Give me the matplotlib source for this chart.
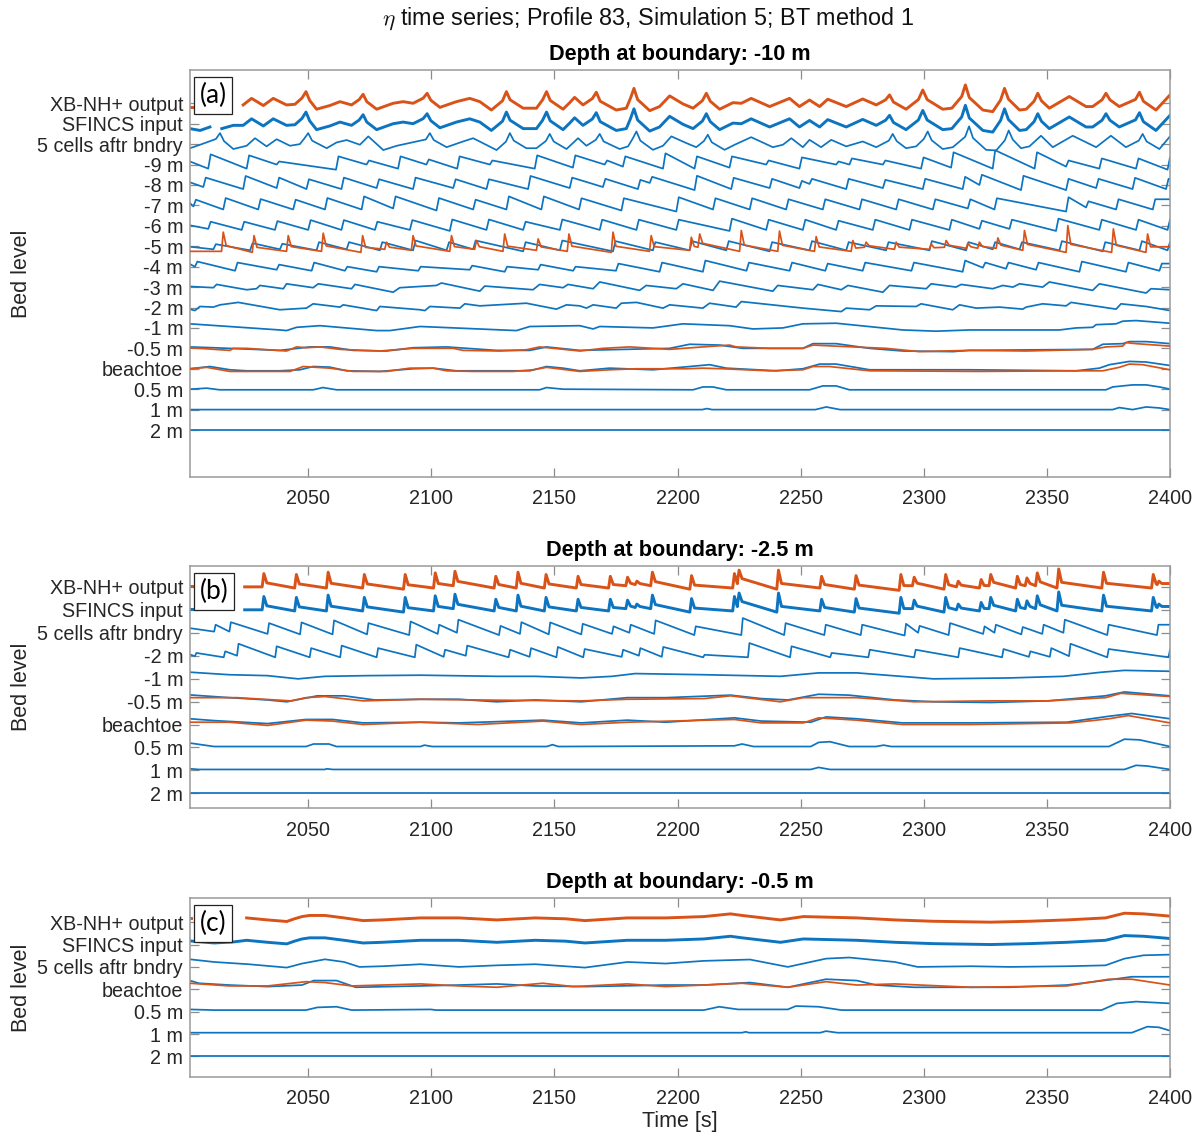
import numpy as np
import matplotlib
matplotlib.use("Agg")
import matplotlib.pyplot as plt

plt.rcParams["font.family"] = ["Liberation Sans", "DejaVu Sans"]
plt.rcParams["mathtext.fontset"] = "cm"

BLUE = "#0d74c0"
ORANGE = "#D95319"
T0, T1 = 2002.0, 2400.0

# ---------------------------------------------------------------- panel (a)
labels_a = ["2 m", "1 m", "0.5 m", "beachtoe", "-0.5 m", "-1 m", "-2 m", "-3 m",
            "-4 m", "-5 m", "-6 m", "-7 m", "-8 m", "-9 m", "5 cells aftr bndry",
            "SFINCS input", "XB-NH+ output"]

# SFINCS input signal (same record as the XB-NH+ output), (time, eta)
sf_a = [(2002.0, -0.24), (2006.1, -0.33), (2010.1, -0.16), (2010.2, np.nan),
        (2014.9, -0.24), (2019.6, -0.08),
        (2023.6, -0.08), (2027.0, 0.24), (2031.8, -0.11), (2035.8, 0.24), (2041.2, -0.08),
        (2044.6, -0.05), (2047.5, 0.26), (2049.1, 0.57), (2050.6, 0.14), (2053.4, -0.29),
        (2058.8, -0.11), (2062.9, 0.08), (2067.6, -0.08), (2070.7, 0.18), (2072.3, 0.44),
        (2073.8, 0.08), (2077.8, -0.29), (2084.5, 0.0), (2088.6, 0.08), (2092.6, 0.0),
        (2096.7, 0.25), (2098.3, 0.49), (2099.8, 0.15), (2103.5, -0.2), (2110.2, 0.08),
        (2115.6, 0.24), (2119.7, 0.08), (2124.4, -0.33), (2128.9, 0.12), (2130.5, 0.57),
        (2132.0, 0.17), (2137.3, -0.24), (2142.7, -0.24), (2145.2, 0.17), (2146.8, 0.57),
        (2148.3, 0.14), (2153.5, -0.29), (2156.2, 0.03), (2158.2, 0.29), (2161.6, -0.08),
        (2165.4, 0.23), (2167.0, 0.54), (2168.6, 0.1), (2175.1, -0.33), (2179.2, -0.24),
        (2180.9, 0.25), (2182.3, 0.73), (2183.8, 0.18), (2188.7, -0.36), (2192.7, -0.16),
        (2196.8, 0.36), (2202.2, -0.03), (2206.3, -0.24), (2210.1, 0.13), (2211.7, 0.49),
        (2213.3, 0.1), (2217.1, -0.29), (2222.5, 0.03), (2225.9, 0.0), (2229.9, 0.24),
        (2237.4, -0.16), (2245.5, 0.24), (2249.5, -0.16), (2253.6, 0.16), (2257.7, -0.16),
        (2261.0, 0.2), (2268.5, -0.16), (2275.2, 0.21), (2280.7, -0.08), (2284.5, 0.17),
        (2286.1, 0.41), (2287.7, 0.06), (2292.8, -0.29), (2297.8, 0.18), (2299.6, 0.65),
        (2301.4, 0.18), (2307.7, -0.29), (2311.4, -0.24), (2315.4, 0.33), (2316.9, 0.9),
        (2318.5, 0.28), (2324.0, -0.33), (2328.0, -0.41), (2331.2, 0.16), (2332.8, 0.73),
        (2334.4, 0.2), (2338.9, -0.33), (2341.6, -0.29), (2344.8, 0.1), (2346.3, 0.49),
        (2347.8, 0.12), (2351.0, -0.24), (2359.1, 0.33), (2365.9, -0.16), (2368.6, -0.16),
        (2372.4, 0.17), (2374.0, 0.49), (2375.6, 0.17), (2379.4, -0.16), (2386.0, 0.19),
        (2387.6, 0.54), (2389.2, 0.1), (2394.3, -0.33), (2400.0, 0.41)]
xb_a_start = 2023.6
xb_a_head = [(2002.0, -0.16), (2004.0, -0.16)]

cells5_a = [(2002.0, -0.2), (2006.1, -0.03), (2012.5, 0.25), (2014.2, 0.54), (2015.8, 0.15),
            (2019.6, -0.24), (2025.0, -0.08), (2028.4, 0.29), (2033.1, -0.11), (2037.2, 0.24),
            (2042.6, -0.08), (2046.6, 0.0), (2048.4, 0.27), (2050.0, 0.54), (2051.6, 0.17),
            (2057.5, -0.2), (2061.5, 0.08), (2065.6, 0.2), (2071.0, -0.03), (2074.4, 0.38),
            (2080.5, -0.29), (2086.0, -0.08), (2097.8, 0.23), (2099.4, 0.54), (2101.0, 0.2),
            (2106.2, -0.15), (2112.9, 0.13), (2117.0, 0.29), (2126.5, -0.29), (2130.3, 0.12),
            (2131.9, 0.54), (2133.5, 0.17), (2138.6, -0.2), (2142.7, -0.2), (2146.5, 0.15),
            (2148.1, 0.5), (2149.7, 0.13), (2154.9, -0.24), (2159.6, 0.29), (2163.0, -0.08),
            (2166.8, 0.21), (2168.4, 0.5), (2170.0, 0.13), (2176.5, -0.24), (2179.9, -0.11),
            (2181.7, 0.25), (2183.3, 0.62), (2184.9, 0.17), (2190.0, -0.28), (2194.1, -0.08),
            (2197.5, 0.38), (2203.6, 0.05), (2207.6, -0.15), (2210.7, 0.15), (2212.3, 0.46),
            (2213.9, 0.09), (2219.1, -0.28), (2223.2, -0.03), (2229.9, 0.34), (2238.7, -0.15),
            (2242.8, -0.03), (2246.2, 0.29), (2250.9, -0.15), (2253.6, 0.21), (2258.3, -0.15),
            (2262.4, 0.21), (2268.5, -0.11), (2275.2, 0.13), (2280.7, -0.15), (2285.8, 0.17),
            (2287.4, 0.5), (2289.0, 0.15), (2292.8, -0.2), (2296.9, -0.11), (2300.0, 0.25),
            (2301.6, 0.62), (2303.2, 0.19), (2307.7, -0.24), (2311.8, -0.15), (2316.8, 0.36),
            (2318.4, 0.87), (2320.0, 0.3), (2325.3, -0.28), (2329.4, -0.31), (2332.9, 0.18),
            (2334.5, 0.67), (2336.1, 0.23), (2339.5, -0.2), (2342.9, -0.11), (2347.6, 0.41),
            (2352.4, -0.15), (2360.5, 0.41), (2370.0, -0.15), (2376.0, 0.41), (2382.1, -0.15),
            (2387.3, 0.17), (2388.9, 0.5), (2390.5, 0.13), (2395.7, -0.24), (2400.0, 0.38)]

# bore fronts: arrival time, level just before and just after the front
m9_t = [2009.4, 2025.0, 2037.2, 2061.3, 2073.7, 2086.5, 2098.0, 2110.5, 2123.8, 2142.0,
        2157.5, 2170.4, 2177.8, 2194.1, 2206.9, 2221.1, 2236.0, 2249.5, 2264.4, 2269.8,
        2283.4, 2298.9, 2311.1, 2328.0, 2345.0, 2357.8, 2371.3, 2386.2, 2399.0]
m9_lo = [-0.2, -0.2, 0.0, -0.25, 0.0, -0.2, 0.0, -0.2, 0.0, -0.2, -0.15, 0.0, -0.1, -0.2,
         -0.2, -0.15, 0.0, -0.2, 0.0, 0.0, 0.0, -0.2, -0.15, -0.2, -0.2, -0.1, -0.2, -0.2, -0.25]
m9_hi = [0.5, 0.45, 0.15, 0.4, 0.2, 0.4, 0.25, 0.4, 0.2, 0.45, 0.45, 0.2, 0.4, 0.55,
         0.4, 0.4, 0.2, 0.35, 0.15, 0.3, 0.2, 0.35, 0.6, 0.7, 0.6, 0.2, 0.3, 0.3, 0.35]

m8_t = [2007.4, 2023.6, 2037.2, 2049.3, 2063.5, 2077.8, 2092.6, 2108.9, 2122.4, 2139.3,
        2156.2, 2169.7, 2183.9, 2188.7, 2206.9, 2221.8, 2237.4, 2249.5, 2253.6, 2268.5,
        2283.4, 2299.6, 2315.8, 2322.6, 2339.5, 2357.8, 2370.0, 2384.8, 2398.4]
m8_lo = [-0.1, -0.2, -0.15, -0.2, -0.2, -0.15, -0.2, -0.15, -0.2, -0.2, -0.15, -0.1, -0.2, 0.1,
         -0.25, -0.2, -0.15, -0.15, 0.05, -0.2, -0.15, -0.2, -0.2, 0.0, -0.25, -0.25, -0.15,
         -0.2, -0.2]
m8_hi = [0.36, 0.44, 0.36, 0.28, 0.36, 0.28, 0.36, 0.28, 0.28, 0.44, 0.36, 0.3, 0.25, 0.4,
         0.45, 0.35, 0.3, 0.2, 0.3, 0.3, 0.25, 0.3, 0.4, 0.5, 0.45, 0.3, 0.3, 0.35, 0.3]

m7_t = [2003.4, 2015.5, 2029.7, 2043.9, 2056.8, 2071.7, 2084.5, 2102.1, 2117.0, 2130.5,
        2144.7, 2160.0, 2177.2, 2199.5, 2214.4, 2229.3, 2244.1, 2259.0, 2273.9, 2288.8,
        2303.7, 2317.9, 2328.7, 2357.8, 2365.9, 2378.1, 2393.0]
m7_lo = [-0.05, -0.2, -0.2, -0.2, -0.2, -0.2, -0.15, -0.25, -0.2, -0.2, -0.2, -0.2, -0.25,
         -0.3, -0.2, -0.2, -0.2, -0.2, -0.2, -0.2, -0.2, -0.15, -0.2, -0.3, -0.1, -0.2, -0.2]
m7_hi = [0.28, 0.36, 0.31, 0.28, 0.36, 0.44, 0.44, 0.36, 0.28, 0.44, 0.44, 0.35, 0.35,
         0.4, 0.35, 0.35, 0.3, 0.3, 0.3, 0.3, 0.3, 0.3, 0.35, 0.4, 0.2, 0.3, 0.3]

m6_t = [2009.4, 2023.0, 2036.5, 2050.0, 2063.5, 2077.1, 2091.3, 2107.5, 2122.4, 2137.3,
        2152.2, 2168.4, 2183.3, 2199.5, 2221.1, 2236.0, 2250.9, 2264.4, 2279.3, 2294.2,
        2310.4, 2322.6, 2334.8, 2353.7, 2371.3, 2386.2, 2399.0]
m6_lo = [-0.15, -0.2, -0.2, -0.2, -0.2, -0.2, -0.2, -0.25, -0.2, -0.2, -0.2, -0.2, -0.2,
         -0.2, -0.25, -0.2, -0.2, -0.2, -0.2, -0.2, -0.2, -0.15, -0.15, -0.25, -0.2, -0.2, -0.2]
m6_hi = [0.2, 0.2, 0.23, 0.28, 0.28, 0.2, 0.28, 0.31, 0.31, 0.2, 0.31, 0.3, 0.3, 0.3,
         0.35, 0.3, 0.3, 0.25, 0.3, 0.3, 0.3, 0.25, 0.3, 0.35, 0.3, 0.3, 0.3]

m5_t = [2011.5, 2026.4, 2038.5, 2053.4, 2065.6, 2079.1, 2092.6, 2106.2, 2117.0, 2137.3,
        2152.2, 2173.8, 2190.0, 2204.9, 2219.8, 2237.4, 2253.6, 2268.5, 2284.7, 2302.3,
        2317.2, 2328.0, 2338.9, 2355.1, 2372.7, 2387.6, 2399.0]
m5_lo = [-0.15, -0.2, -0.15, -0.2, -0.15, -0.2, -0.2, -0.2, -0.15, -0.25, -0.2, -0.25,
         -0.2, -0.2, -0.2, -0.25, -0.2, -0.2, -0.2, -0.2, -0.2, -0.15, -0.15, -0.2, -0.25,
         -0.2, -0.2]
m5_hi = [0.1, 0.15, 0.12, 0.2, 0.2, 0.2, 0.28, 0.2, 0.28, 0.2, 0.28, 0.25, 0.2, 0.25, 0.25,
         0.2, 0.25, 0.2, 0.2, 0.25, 0.2, 0.2, 0.2, 0.25, 0.2, 0.25, 0.2]

# XB-NH+ at -5 m: narrow crests (time, crest level)
m5x_t = [2015.5, 2028.0, 2041.9, 2056.1, 2072.1, 2081.8, 2092.6, 2108.2, 2118.3, 2129.8,
         2143.4, 2155.9, 2173.8, 2189.3, 2205.6, 2209.0, 2225.9, 2241.4, 2256.3, 2271.2,
         2276.6, 2288.8, 2303.0, 2309.1, 2317.9, 2322.6, 2330.1, 2340.9, 2358.5, 2377.0,
         2390.9]
m5x_hi = [0.69, 0.52, 0.52, 0.64, 0.52, 0.2, 0.52, 0.52, 0.28, 0.6, 0.36, 0.6, 0.69, 0.52,
          0.44, 0.6, 0.77, 0.74, 0.47, 0.28, 0.2, 0.2, 0.11, 0.28, 0.15, 0.2, 0.41, 0.77,
          1.01, 0.85, 0.6]
m5x_lo = [-0.25, -0.3, -0.25, -0.25, -0.3, -0.15, -0.2, -0.25, -0.15, -0.25, -0.2, -0.25,
          -0.3, -0.25, -0.2, -0.05, -0.25, -0.25, -0.25, -0.25, -0.05, -0.15, -0.15, -0.05,
          -0.1, -0.1, -0.1, -0.2, -0.3, -0.3, -0.3]

m4_t = [2004.0, 2020.3, 2037.2, 2051.4, 2064.9, 2077.8, 2094.7, 2115.6, 2129.8, 2143.4,
        2157.6, 2175.0, 2192.7, 2210.3, 2228.0, 2245.5, 2260.0, 2275.2, 2295.0, 2315.8,
        2324.0, 2333.4, 2345.6, 2363.2, 2382.1, 2395.7]
m4_lo = [0.0, -0.2, -0.15, -0.2, -0.2, -0.25, -0.2, -0.15, -0.25, -0.15, -0.2, -0.2,
         -0.25, -0.25, -0.2, -0.2, -0.2, -0.2, -0.2, -0.25, -0.05, -0.1, -0.15, -0.25,
         -0.25, -0.2]
m4_hi = [0.25, 0.2, 0.1, 0.2, 0.0, 0.0, 0.0, 0.05, 0.0, 0.1, 0.0, 0.15, 0.2, 0.3, 0.2, 0.2,
         0.15, 0.2, 0.2, 0.3, 0.2, 0.2, 0.2, 0.25, 0.2, 0.15]

m3_a = [(2002.0, 0.03), (2011.5, -0.03), (2012.8, 0.13), (2025.0, -0.13), (2029.0, -0.08),
        (2030.4, 0.08), (2039.9, -0.08), (2041.2, 0.16), (2052.0, -0.03), (2054.1, 0.16),
        (2067.6, -0.08), (2069.0, 0.13), (2084.5, -0.25), (2087.2, -0.03), (2102.1, 0.08),
        (2104.1, 0.2), (2119.7, -0.2), (2121.7, 0.05), (2141.3, -0.13), (2144.0, 0.13),
        (2153.5, -0.03), (2155.5, 0.13), (2165.7, -0.08), (2168.4, 0.25), (2184.6, -0.16),
        (2187.3, 0.08), (2199.5, -0.08), (2202.2, 0.16), (2214.4, -0.16), (2217.1, 0.29),
        (2238.7, -0.2), (2240.7, 0.08), (2255.0, -0.13), (2257.0, 0.13), (2266.5, -0.13),
        (2269.2, 0.08), (2283.4, -0.25), (2286.1, 0.08), (2301.0, -0.08), (2303.0, 0.16),
        (2313.1, 0.0), (2315.2, 0.13), (2328.0, -0.08), (2332.1, 0.08), (2336.2, 0.0),
        (2338.9, 0.16), (2348.3, 0.0), (2351.0, 0.25), (2368.6, -0.16), (2371.3, 0.16),
        (2390.3, -0.29), (2392.3, -0.08), (2400.0, -0.13)]

m2_a = [(2002.0, -0.08), (2004.0, -0.15), (2006.0, 0.05), (2011.5, 0.02), (2014.2, 0.13),
        (2021.6, 0.25), (2038.5, -0.11), (2049.3, -0.03), (2052.0, 0.18), (2062.9, 0.02),
        (2064.2, 0.13), (2077.8, -0.15), (2079.1, 0.05), (2095.4, -0.11), (2097.4, -0.15),
        (2099.4, 0.05), (2111.6, -0.03), (2113.6, 0.18), (2119.7, 0.08), (2138.6, 0.21),
        (2150.8, -0.08), (2154.9, 0.13), (2160.3, 0.08), (2163.0, -0.03), (2165.7, 0.13),
        (2175.1, -0.03), (2177.2, 0.21), (2183.3, 0.25), (2194.1, -0.03), (2196.8, 0.13),
        (2210.3, -0.03), (2213.0, 0.21), (2223.8, 0.02), (2225.9, 0.29), (2250.9, -0.03),
        (2266.5, -0.2), (2268.5, -0.03), (2278.0, -0.11), (2280.7, 0.08), (2296.9, 0.05),
        (2298.9, 0.18), (2311.8, -0.11), (2314.5, 0.13), (2321.3, -0.03), (2330.7, 0.02),
        (2340.2, -0.08), (2341.6, 0.02), (2348.3, 0.18), (2357.8, 0.08), (2359.8, 0.25),
        (2378.1, -0.08), (2380.1, 0.18), (2390.3, 0.05), (2400.0, -0.15)]

m1_a = [(2002.0, 0.2), (2038.5, -0.1), (2041.2, -0.13), (2045.3, 0.03), (2054.8, 0.11),
        (2077.8, -0.13), (2083.2, -0.13), (2095.4, 0.07), (2103.5, 0.03), (2134.6, -0.13),
        (2140.0, 0.07), (2160.3, 0.11), (2165.7, -0.05), (2168.4, 0.07), (2190.0, 0.0),
        (2202.2, 0.2), (2221.1, 0.11), (2230.6, -0.05), (2242.8, 0.0), (2250.9, 0.2),
        (2264.4, 0.23), (2291.5, -0.1), (2305.0, -0.16), (2318.5, -0.1), (2355.1, -0.1),
        (2361.9, 0.0), (2368.6, 0.03), (2370.0, 0.16), (2378.1, 0.2), (2380.8, 0.33),
        (2386.2, 0.36), (2400.0, 0.23)]

m05_a = [(2002.0, 0.07), (2011.5, 0.03), (2038.5, -0.1), (2050.7, 0.07), (2058.8, 0.07),
         (2068.3, -0.1), (2081.8, -0.13), (2092.6, 0.03), (2106.2, 0.07), (2126.5, -0.1),
         (2140.0, -0.1), (2146.8, 0.07), (2160.3, -0.1), (2196.8, 0.0), (2204.9, 0.2),
         (2217.1, 0.16), (2226.5, 0.0), (2250.9, 0.0), (2255.0, 0.23), (2264.4, 0.23),
         (2278.0, 0.0), (2291.5, -0.13), (2311.8, -0.16), (2318.5, -0.1), (2368.6, -0.05),
         (2372.7, 0.2), (2380.8, 0.23), (2383.5, 0.33), (2390.3, 0.33), (2400.0, 0.23)]
m05x_a = [(2002.0, 0.03), (2018.2, -0.1), (2019.6, 0.0), (2025.0, 0.0), (2041.2, -0.13),
          (2045.3, 0.07), (2049.3, 0.03), (2054.8, 0.07), (2062.9, -0.05), (2079.1, -0.13),
          (2092.6, 0.0), (2108.9, 0.0), (2112.9, -0.1), (2127.8, -0.13), (2138.6, -0.07),
          (2144.0, 0.07), (2160.3, -0.13), (2169.7, 0.0), (2180.6, 0.07), (2196.8, -0.05),
          (2210.3, 0.07), (2221.1, 0.16), (2223.8, 0.07), (2237.4, 0.0), (2250.9, 0.0),
          (2255.0, 0.16), (2271.2, 0.07), (2284.7, 0.0), (2298.2, -0.16), (2318.5, -0.1),
          (2341.6, -0.13), (2368.6, -0.05), (2374.0, 0.07), (2380.8, 0.11), (2382.1, 0.28),
          (2386.2, 0.23), (2400.0, 0.11)]

bt_a = [(2002.0, 0.0), (2010.1, 0.11), (2018.2, -0.05), (2025.0, -0.1), (2038.5, -0.1),
        (2046.6, -0.05), (2052.0, 0.11), (2058.8, 0.08), (2065.6, -0.1), (2079.1, -0.13),
        (2092.6, 0.0), (2100.8, 0.03), (2110.2, -0.1), (2140.0, -0.1), (2146.8, 0.11),
        (2153.5, 0.03), (2160.3, -0.1), (2172.4, 0.03), (2190.0, -0.05), (2204.9, 0.11),
        (2213.0, 0.2), (2219.8, 0.03), (2240.1, -0.1), (2250.9, 0.0), (2257.7, 0.23),
        (2264.4, 0.23), (2278.0, -0.05), (2318.5, -0.05), (2361.9, -0.1), (2371.3, 0.03),
        (2375.4, 0.2), (2383.5, 0.36), (2390.3, 0.33), (2400.0, 0.16)]
btx_a = [(2002.0, 0.0), (2008.8, 0.07), (2018.2, -0.13), (2042.6, -0.13), (2048.0, 0.11),
         (2058.8, 0.03), (2068.3, -0.13), (2081.8, -0.13), (2091.3, 0.03), (2100.8, 0.03),
         (2106.2, -0.1), (2117.0, -0.13), (2133.2, -0.13), (2141.3, -0.05), (2146.8, 0.07),
         (2160.3, -0.13), (2172.4, -0.05), (2183.3, 0.0), (2203.6, 0.0), (2210.3, 0.03),
         (2218.4, 0.0), (2237.4, -0.1), (2250.9, -0.05), (2255.0, 0.11), (2261.7, 0.11),
         (2278.0, -0.1), (2322.6, -0.13), (2361.9, -0.1), (2372.7, -0.1), (2379.4, 0.07),
         (2383.5, 0.23), (2388.9, 0.2), (2400.0, -0.05)]

p05_a = [(2002.0, 0.0), (2008.8, 0.05), (2014.0, -0.03), (2052.0, -0.03), (2056.0, 0.08),
         (2061.5, -0.03), (2144.0, -0.03), (2146.8, 0.08), (2153.5, 0.0), (2206.3, -0.03),
         (2210.3, 0.11), (2214.4, 0.11), (2219.8, -0.03), (2253.6, -0.03), (2259.0, 0.16),
         (2264.4, 0.16), (2269.8, -0.03), (2374.0, -0.03), (2376.7, 0.11), (2384.8, 0.21),
         (2390.3, 0.21), (2395.7, 0.11), (2400.0, 0.0)]
p1_a = [(2002.0, 0.0), (2210.0, 0.0), (2212.0, 0.05), (2214.0, 0.0), (2256.0, 0.0),
        (2260.4, 0.13), (2266.0, 0.0), (2376.7, 0.0), (2379.4, 0.1), (2384.8, 0.0),
        (2390.3, 0.13), (2395.7, 0.08), (2400.0, 0.0)]
p2_a = [(2002.0, 0.0), (2400.0, 0.0)]

# ---------------------------------------------------------------- panel (b)
labels_b = ["2 m", "1 m", "0.5 m", "beachtoe", "-0.5 m", "-1 m", "-2 m",
            "5 cells aftr bndry", "SFINCS input", "XB-NH+ output"]

xb_b_t = [2032.0, 2045.2, 2058.1, 2072.8, 2089.4, 2101.6, 2109.6, 2126.2, 2135.2, 2146.6,
          2159.6, 2172.7, 2179.7, 2183.5, 2189.8, 2205.7, 2223.1, 2225.0, 2241.0, 2258.5,
          2272.5, 2290.7, 2296.1, 2308.9, 2314.0, 2323.3, 2327.2, 2338.0, 2341.9, 2346.1,
          2354.8, 2373.0, 2393.2, 2395.5]
xb_b_hi = [0.58, 0.54, 0.64, 0.54, 0.54, 0.61, 0.68, 0.46, 0.64, 0.54, 0.46, 0.46, 0.42,
           0.25, 0.64, 0.49, 0.58, 0.73, 0.73, 0.46, 0.49, 0.54, 0.42, 0.54, 0.25, 0.32,
           0.54, 0.46, 0.39, 0.61, 0.78, 0.64, 0.54, 0.25]
xb_b_lo = [0.0, -0.05, -0.05, -0.05, -0.1, -0.05, 0.05, -0.05, -0.05, -0.05, -0.05, -0.05,
           0.05, 0.1, 0.05, -0.1, -0.05, 0.2, -0.1, -0.05, -0.1, -0.15, 0.05, -0.1, 0.0,
           -0.05, 0.05, -0.05, 0.05, 0.05, -0.05, -0.05, -0.05, 0.1]
xb_b_span = (2024.2, 2400.0)
xb_b_head = [(2002.0, 0.03), (2004.3, 0.03)]

c5_b_t = [2011.8, 2018.0, 2033.5, 2046.7, 2059.9, 2073.9, 2091.0, 2102.6, 2110.4, 2127.5,
          2136.0, 2147.7, 2160.9, 2173.4, 2180.4, 2190.5, 2206.8, 2225.9, 2243.3, 2259.6,
          2274.4, 2292.2, 2297.7, 2310.1, 2324.1, 2328.7, 2339.6, 2348.1, 2356.7, 2374.5,
          2394.7]
c5_b_hi = [0.35, 0.46, 0.42, 0.45, 0.54, 0.42, 0.49, 0.35, 0.57, 0.3, 0.46, 0.45, 0.39,
           0.28, 0.35, 0.54, 0.28, 0.64, 0.42, 0.35, 0.35, 0.39, 0.3, 0.42, 0.28, 0.35,
           0.25, 0.35, 0.57, 0.35, 0.35]
c5_b_lo = [0.05, 0.05, -0.05, -0.07, -0.07, -0.07, -0.1, -0.05, 0.0, -0.1, -0.05, -0.07,
           -0.07, -0.05, 0.0, -0.05, -0.1, -0.1, -0.1, -0.1, -0.1, -0.12, 0.0, -0.1, -0.05,
           0.0, -0.07, -0.05, 0.0, -0.1, -0.1]

m2_b_t = [2004.0, 2015.7, 2021.1, 2036.6, 2050.6, 2063.0, 2077.8, 2093.3, 2105.0, 2114.0,
          2131.4, 2139.9, 2150.8, 2161.7, 2177.3, 2184.3, 2193.6, 2210.4, 2228.6, 2245.7,
          2262.0, 2277.5, 2296.1, 2314.0, 2331.8, 2342.7, 2351.2, 2359.0, 2374.5, 2399.4]
m2_b_hi = [0.12, 0.19, 0.52, 0.41, 0.33, 0.44, 0.33, 0.48, 0.26, 0.44, 0.26, 0.33, 0.38,
           0.29, 0.26, 0.33, 0.38, 0.04, 0.55, 0.41, 0.12, 0.26, 0.26, 0.33, 0.29, 0.19,
           0.33, 0.52, 0.29, 0.26]
m2_b_lo = [-0.02, -0.07, 0.0, -0.07, -0.07, -0.07, -0.07, -0.07, -0.05, 0.0, -0.07, -0.05,
           -0.07, -0.07, -0.05, 0.0, -0.05, -0.07, -0.07, -0.07, -0.07, -0.07, -0.07, -0.07,
           -0.07, -0.05, -0.05, -0.02, -0.07, -0.07]

m1_b = [(2002.0, 0.28), (2018.0, 0.17), (2033.5, 0.13), (2045.9, -0.01), (2056.8, 0.1),
        (2073.9, 0.13), (2095.6, 0.15), (2126.6, 0.1), (2142.2, 0.1), (2160.9, 0.03),
        (2173.4, 0.1), (2182.8, 0.22), (2210.7, 0.17), (2241.8, 0.1), (2257.3, 0.25),
        (2272.8, 0.25), (2303.9, -0.01), (2334.9, 0.03), (2356.7, 0.1), (2372.2, 0.28),
        (2381.5, 0.36), (2400.0, 0.32)]
m05_b = [(2002.0, 0.29), (2018.0, 0.17), (2033.5, 0.07), (2041.3, -0.01), (2053.7, 0.25),
         (2064.6, 0.25), (2077.0, 0.07), (2095.6, 0.1), (2111.2, 0.1), (2126.6, -0.01),
         (2142.2, 0.07), (2160.9, -0.01), (2179.6, 0.17), (2195.2, 0.17), (2221.5, 0.28),
         (2233.9, 0.13), (2244.8, 0.07), (2257.3, 0.32), (2269.7, 0.28), (2288.3, 0.07),
         (2303.9, -0.01), (2327.2, -0.04), (2350.5, 0.03), (2373.8, 0.25), (2381.5, 0.42),
         (2400.0, 0.25)]
m05x_b = [(2002.0, 0.17), (2021.1, 0.17), (2042.9, 0.03), (2049.1, 0.17), (2056.8, 0.22),
          (2072.3, 0.03), (2095.6, 0.1), (2126.6, 0.06), (2160.9, 0.03), (2179.6, 0.1),
          (2210.7, 0.13), (2221.5, 0.25), (2241.8, -0.01), (2251.1, 0.17), (2272.8, 0.17),
          (2296.1, -0.01), (2327.2, 0.03), (2350.5, 0.03), (2373.8, 0.17), (2380.1, 0.36),
          (2400.0, 0.22)]
bt_b = [(2002.0, 0.25), (2011.8, 0.17), (2033.5, 0.04), (2049.1, 0.22), (2059.9, 0.22),
        (2072.3, 0.07), (2095.6, 0.1), (2111.2, 0.07), (2145.3, 0.19), (2160.9, 0.07),
        (2179.6, 0.19), (2195.2, 0.1), (2223.1, 0.29), (2234.0, 0.15), (2254.1, 0.1),
        (2260.3, 0.33), (2272.8, 0.25), (2291.4, 0.07), (2319.3, 0.07), (2358.1, 0.1),
        (2375.2, 0.36), (2384.5, 0.48), (2400.0, 0.25)]
btx_b = [(2002.0, 0.1), (2017.9, 0.1), (2033.5, -0.04), (2049.1, 0.19), (2059.9, 0.15),
         (2072.3, 0.0), (2095.6, 0.1), (2118.9, 0.0), (2145.3, 0.15), (2160.9, 0.0),
         (2179.6, 0.1), (2223.1, 0.22), (2234.0, 0.07), (2251.1, 0.07), (2257.3, 0.29),
         (2272.8, 0.19), (2291.4, 0.0), (2319.3, 0.0), (2359.6, 0.07), (2375.2, 0.25),
         (2383.0, 0.39), (2400.0, 0.07)]
p05_b = [(2002.0, 0.19), (2011.8, 0.04), (2049.1, 0.04), (2052.2, 0.15), (2058.4, 0.15),
         (2061.5, 0.04), (2095.6, 0.04), (2097.2, 0.1), (2100.3, 0.04), (2146.9, 0.04),
         (2149.2, 0.12), (2151.6, 0.04), (2223.1, 0.07), (2226.2, 0.15), (2230.9, 0.04),
         (2254.1, 0.04), (2257.3, 0.22), (2261.9, 0.25), (2269.7, 0.04), (2280.6, 0.04),
         (2283.7, 0.1), (2286.8, 0.04), (2375.2, 0.04), (2381.5, 0.36), (2387.7, 0.33),
         (2400.0, 0.04)]
p1_b = [(2002.0, 0.07), (2005.6, 0.04), (2056.8, 0.04), (2057.5, 0.07), (2060.0, 0.04),
        (2254.1, 0.04), (2257.3, 0.13), (2261.9, 0.04), (2381.5, 0.04), (2386.2, 0.22),
        (2390.8, 0.19), (2400.0, 0.04)]
p2_b = [(2002.0, 0.0), (2400.0, 0.0)]

# ---------------------------------------------------------------- panel (c)
labels_c = ["2 m", "1 m", "0.5 m", "beachtoe", "5 cells aftr bndry", "SFINCS input",
            "XB-NH+ output"]

xb_c = [(2025.0, 0.19), (2033.5, 0.1), (2041.3, 0.03), (2044.4, 0.15), (2047.5, 0.25),
        (2050.6, 0.3), (2056.8, 0.3), (2064.6, 0.19), (2072.3, 0.07), (2080.1, 0.1),
        (2095.6, 0.19), (2111.2, 0.19), (2126.6, 0.1), (2142.2, 0.19), (2154.6, 0.15),
        (2162.4, 0.07), (2179.6, 0.19), (2195.2, 0.19), (2210.7, 0.25), (2221.5, 0.37),
        (2226.2, 0.3), (2241.8, 0.1), (2251.1, 0.25), (2272.8, 0.19), (2288.3, 0.1),
        (2303.9, 0.04), (2327.2, 0.0), (2342.7, 0.04), (2358.1, 0.1), (2373.8, 0.19),
        (2381.5, 0.4), (2389.3, 0.37), (2400.0, 0.27)]
xb_c_head = [(2002.0, 0.19), (2002.6, 0.19)]
sf_c_head = [(2002.0, 0.16), (2011.8, 0.07), (2020.0, 0.12)]

c5_c = [(2002.0, 0.34), (2011.8, 0.22), (2025.8, 0.12), (2041.3, -0.03), (2047.5, 0.15),
        (2056.8, 0.34), (2064.6, 0.22), (2070.8, 0.0), (2080.1, 0.03), (2095.6, 0.12),
        (2111.2, 0.0), (2126.6, 0.07), (2142.2, 0.12), (2162.4, -0.03), (2179.6, 0.22),
        (2195.2, 0.15), (2210.7, 0.27), (2229.4, 0.33), (2244.8, 0.0), (2260.3, 0.37),
        (2269.7, 0.42), (2288.3, 0.22), (2297.5, 0.0), (2319.3, 0.03), (2334.9, 0.0),
        (2358.1, 0.03), (2373.8, 0.07), (2381.5, 0.37), (2389.3, 0.52), (2400.0, 0.55)]
bt_c = [(2002.0, 0.39), (2005.6, 0.27), (2018.0, 0.19), (2033.5, 0.12), (2047.5, 0.19),
        (2052.2, 0.39), (2061.5, 0.39), (2069.3, 0.09), (2095.6, 0.15), (2111.2, 0.19),
        (2126.6, 0.24), (2142.2, 0.15), (2162.4, 0.12), (2195.2, 0.19), (2210.7, 0.19),
        (2229.4, 0.3), (2244.8, 0.09), (2260.3, 0.45), (2272.8, 0.39), (2280.6, 0.19),
        (2296.1, 0.09), (2334.9, 0.09), (2358.1, 0.19), (2375.2, 0.42), (2384.5, 0.56),
        (2400.0, 0.56)]
btx_c = [(2002.0, 0.27), (2018.0, 0.15), (2033.5, 0.15), (2049.1, 0.34), (2056.8, 0.3),
         (2067.7, 0.15), (2095.6, 0.24), (2111.2, 0.15), (2126.6, 0.09), (2145.3, 0.27),
         (2157.7, 0.12), (2179.6, 0.24), (2195.2, 0.12), (2210.7, 0.19), (2226.2, 0.27),
         (2244.8, 0.09), (2260.3, 0.34), (2272.8, 0.19), (2288.3, 0.24), (2319.3, 0.09),
         (2358.1, 0.15), (2375.2, 0.45), (2384.5, 0.45), (2400.0, 0.19)]
p05_c = [(2002.0, 0.1), (2011.8, 0.07), (2049.1, 0.07), (2053.7, 0.19), (2061.5, 0.22),
         (2067.7, 0.07), (2099.8, 0.1), (2102.0, 0.07), (2210.7, 0.07), (2216.9, 0.22),
         (2224.6, 0.1), (2244.8, 0.1), (2248.0, 0.25), (2257.3, 0.22), (2266.6, 0.07),
         (2372.2, 0.07), (2378.4, 0.37), (2386.2, 0.45), (2400.0, 0.37)]
p1_c = [(2002.0, 0.06), (2226.2, 0.06), (2227.7, 0.1), (2229.0, 0.06), (2258.0, 0.06),
        (2260.3, 0.13), (2264.9, 0.06), (2384.5, 0.06), (2390.8, 0.33), (2395.5, 0.3),
        (2400.0, 0.15)]
p2_c = [(2002.0, 0.0), (2400.0, 0.0)]


# ---------------------------------------------------------------- helpers
def pts(seq):
    a = np.array(seq, dtype=float)
    return a[:, 0], a[:, 1]


def bores(t, lo, hi, rise=1.0):
    """Polyline of a bore train: level `lo` at the front, `hi` just behind it."""
    tt, vv = [T0], [lo[0] + 0.5 * (hi[0] - lo[0])]
    for tj, l, h in zip(t, lo, hi):
        tt += [tj, tj + rise]
        vv += [l, h]
    tt.append(T1)
    vv.append(vv[-1])
    return np.array(tt), np.array(vv)


def crests(t, lo, hi, start, end):
    """Narrow crests rising from `lo` to `hi` and dropping back behind them."""
    tt, vv = [start], [lo[0]]
    for tj, l, h in zip(t, lo, hi):
        tt += [tj - 0.7, tj, tj + 1.2]
        vv += [l, h, l + 0.3 * (h - l)]
    tt.append(end)
    vv.append(vv[-1])
    return np.array(tt), np.array(vv)


def style_axes(ax, labels, ylim, tag, title):
    ax.set_xlim(T0, T1)
    ax.set_ylim(*ylim)
    ax.set_yticks(range(len(labels)))
    ax.set_yticklabels(labels)
    ax.set_xticks([2050, 2100, 2150, 2200, 2250, 2300, 2350, 2400])
    ax.tick_params(direction="in", top=True, right=True, length=6.5, width=0.9,
                   color="#8c8c8c", labelcolor="#262626", labelsize=14.2, pad=5)
    ax.tick_params(axis="x", pad=9)
    for s in ax.spines.values():
        s.set_color("#9a9a9a")
        s.set_linewidth(1.1)
    ax.set_ylabel("Bed level", fontsize=15.5, color="#262626", labelpad=4)
    ax.set_title(title, fontsize=15.6, fontweight="bold", pad=7)
    # panel tag in a framed white box, placed in pixels from the top-left corner
    ax.annotate(tag, xy=(0, 1), xycoords="axes fraction", xytext=(9.5, -13),
                textcoords="offset pixels", ha="left", va="top", fontsize=19,
                family=["Lato", "DejaVu Sans"], zorder=10,
                bbox=dict(boxstyle="square,pad=0.22", fc="white", ec="#222222", lw=0.9))


def line(ax, k, t, v, color=BLUE, lw=1.25, z=2):
    ax.plot(t, k + np.asarray(v), color=color, lw=lw, zorder=z, solid_joinstyle="round")


fig = plt.figure(figsize=(11.99, 11.38), dpi=100)
axa = fig.add_axes([190 / 1199, (1138 - 477) / 1138, 980 / 1199, 407 / 1138])
axb = fig.add_axes([190 / 1199, (1138 - 808) / 1138, 980 / 1199, 242 / 1138])
axc = fig.add_axes([190 / 1199, (1138 - 1077) / 1138, 980 / 1199, 179 / 1138])

# ---- (a)
line(axa, 0, *pts(p2_a))
line(axa, 1, *pts(p1_a))
line(axa, 2, *pts(p05_a))
line(axa, 3, *pts(bt_a))
line(axa, 3, *pts(btx_a), color=ORANGE, z=3)
line(axa, 4, *pts(m05_a))
line(axa, 4, *pts(m05x_a), color=ORANGE, z=3)
line(axa, 5, *pts(m1_a))
line(axa, 6, *pts(m2_a))
line(axa, 7, *pts(m3_a))
line(axa, 8, *bores(m4_t, m4_lo, m4_hi))
line(axa, 9, *bores(m5_t, m5_lo, m5_hi))
line(axa, 9, *crests(m5x_t, m5x_lo, m5x_hi, T0, T1), color=ORANGE, z=3)
line(axa, 10, *bores(m6_t, m6_lo, m6_hi))
line(axa, 11, *bores(m7_t, m7_lo, m7_hi))
line(axa, 12, *bores(m8_t, m8_lo, m8_hi))
line(axa, 13, *bores(m9_t, m9_lo, m9_hi))
line(axa, 14, *pts(cells5_a))
ts, vs = pts(sf_a)
line(axa, 15, ts, vs, lw=2.1)
keep = ts >= xb_a_start
line(axa, 16, ts[keep], vs[keep], color=ORANGE, lw=2.1)
line(axa, 16, *pts(xb_a_head), color=ORANGE, lw=2.1)
style_axes(axa, labels_a, (-2.30, 17.63), "(a)", "Depth at boundary: -10 m")

# ---- (b)
line(axb, 0, *pts(p2_b))
line(axb, 1, *pts(p1_b))
line(axb, 2, *pts(p05_b))
line(axb, 3, *pts(bt_b))
line(axb, 3, *pts(btx_b), color=ORANGE, z=3)
line(axb, 4, *pts(m05_b))
line(axb, 4, *pts(m05x_b), color=ORANGE, z=3)
line(axb, 5, *pts(m1_b))
line(axb, 6, *bores(m2_b_t, m2_b_lo, m2_b_hi, rise=0.6))
line(axb, 7, *bores(c5_b_t, c5_b_lo, c5_b_hi, rise=0.6))
tb, vb = crests(xb_b_t, xb_b_lo, xb_b_hi, *xb_b_span)
line(axb, 8, tb, vb, lw=2.1)
line(axb, 8, *pts(xb_b_head), lw=2.1)
line(axb, 9, tb, vb, color=ORANGE, lw=2.1)
line(axb, 9, *pts(xb_b_head), color=ORANGE, lw=2.1)
style_axes(axb, labels_b, (-0.64, 9.91), "(b)", "Depth at boundary: -2.5 m")

# ---- (c)
line(axc, 0, *pts(p2_c))
line(axc, 1, *pts(p1_c))
line(axc, 2, *pts(p05_c))
line(axc, 3, *pts(bt_c))
line(axc, 3, *pts(btx_c), color=ORANGE, z=3)
line(axc, 4, *pts(c5_c))
tc, vc = pts(xb_c)
ths, vhs = pts(sf_c_head)
line(axc, 5, np.r_[ths, tc], np.r_[vhs, vc], lw=2.1)
line(axc, 6, tc, vc, color=ORANGE, lw=2.1)
line(axc, 6, *pts(xb_c_head), color=ORANGE, lw=2.1)
style_axes(axc, labels_c, (-0.92, 7.08), "(c)", "Depth at boundary: -0.5 m")
axc.set_xlabel("Time [s]", fontsize=15.5, color="#262626", labelpad=2)

fig.text(648 / 1199, 1 - 19 / 1138, r"$\eta$ time series; Profile 83, Simulation 5; BT method 1",
         ha="center", va="center", fontsize=16.8, color="#111111")

fig.savefig("out.png", dpi=100)
